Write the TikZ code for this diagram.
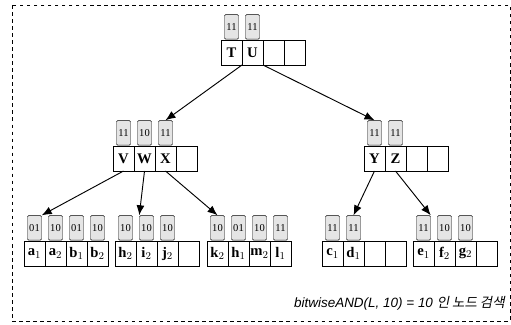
\documentclass[tikz,border=0pt]{standalone}
\usepackage{fontspec}
\setmainfont{Liberation Serif}
\setsansfont{Liberation Sans}
\newfontfamily\krfont{Noto Sans CJK KR}[FakeSlant=0.2]
\usetikzlibrary{arrows.meta, positioning}

\begin{document}
\begin{tikzpicture}[x=0.03cm, y=-0.03cm,
                    cell/.style={rectangle, draw, minimum width=0.63cm, minimum height=0.75cm, inner sep=0pt, outer sep=0pt, font=\fontsize{12.5}{12.5}\selectfont\bfseries},
                    tag/.style={rectangle, draw, rounded corners=1pt, fill=gray!20, minimum width=0.42cm, minimum height=0.74cm, inner sep=0pt, font=\fontsize{9}{9}\selectfont},
                    link/.style={-{Latex[length=3mm, width=2.4mm]}, thick},
                    node distance=0pt]

\useasboundingbox (0,0) rectangle (511,324);
\draw[dashed] (12,5) rectangle (510,321);

% Root node
\node[cell, anchor=north west] (cellT) at (221,40) {T};
\node[cell, right=of cellT] (cellU) {U};
\node[cell, right=of cellU] (rootE1) {};
\node[cell, right=of rootE1] (rootE2) {};
\node[tag, above=0.5pt of cellT] (tagT) {11};
\node[tag, above=0.5pt of cellU] (tagU) {11};

% Inner nodes
\node[cell, anchor=north west] (cellV) at (113,146) {V};
\node[cell, right=of cellV] (cellW) {W};
\node[cell, right=of cellW] (cellX) {X};
\node[cell, right=of cellX] (vwxE) {};
\node[tag, above=0.5pt of cellV] (tagV) {11};
\node[tag, above=0.5pt of cellW] (tagW) {10};
\node[tag, above=0.5pt of cellX] (tagX) {11};

\node[cell, anchor=north west] (cellY) at (364,146) {Y};
\node[cell, right=of cellY] (cellZ) {Z};
\node[cell, right=of cellZ] (yzE1) {};
\node[cell, right=of yzE1] (yzE2) {};
\node[tag, above=0.5pt of cellY] (tagY) {11};
\node[tag, above=0.5pt of cellZ] (tagZ) {11};

% Leaf nodes
\node[cell, anchor=north west] (a1) at (24,241) {a$_1$};
\node[cell, right=of a1] (a2) {a$_2$};
\node[cell, right=of a2] (b1) {b$_1$};
\node[cell, right=of b1] (b2) {b$_2$};
\node[tag, above=0.5pt of a1] (tagA1) {01};
\node[tag, above=0.5pt of a2] (tagA2) {10};
\node[tag, above=0.5pt of b1] (tagB1) {01};
\node[tag, above=0.5pt of b2] (tagB2) {10};

\node[cell, anchor=north west] (h2) at (115,241) {h$_2$};
\node[cell, right=of h2] (i2) {i$_2$};
\node[cell, right=of i2] (j2) {j$_2$};
\node[cell, right=of j2] (leafhE) {};
\node[tag, above=0.5pt of h2] (tagH2) {10};
\node[tag, above=0.5pt of i2] (tagI2) {10};
\node[tag, above=0.5pt of j2] (tagJ2) {10};

\node[cell, anchor=north west] (k2) at (207,241) {k$_2$};
\node[cell, right=of k2] (h1) {h$_1$};
\node[cell, right=of h1] (m2) {m$_2$};
\node[cell, right=of m2] (l1) {l$_1$};
\node[tag, above=0.5pt of k2] (tagK2) {10};
\node[tag, above=0.5pt of h1] (tagH1) {01};
\node[tag, above=0.5pt of m2] (tagM2) {10};
\node[tag, above=0.5pt of l1] (tagL1) {11};

\node[cell, anchor=north west] (c1) at (322,241) {c$_1$};
\node[cell, right=of c1] (d1) {d$_1$};
\node[cell, right=of d1] (leafcE1) {};
\node[cell, right=of leafcE1] (leafcE2) {};
\node[tag, above=0.5pt of c1] (tagC1) {11};
\node[tag, above=0.5pt of d1] (tagD1) {11};

\node[cell, anchor=north west] (e1) at (413,241) {e$_1$};
\node[cell, right=of e1] (f2) {f$_2$};
\node[cell, right=of f2] (g2) {g$_2$};
\node[cell, right=of g2] (leafeE) {};
\node[tag, above=0.5pt of e1] (tagE1) {11};
\node[tag, above=0.5pt of f2] (tagF2) {10};
\node[tag, above=0.5pt of g2] (tagG2) {10};

% Child pointers
\draw[link] (cellT.south east) -- (tagX.north);
\draw[link] (cellU.south east) -- (tagY.north);
\draw[link] (cellV.south) -- (tagA1.north east);
\draw[link] (cellW.south) -- (tagI2.north west);
\draw[link] (cellX.south) -- (tagK2.north);
\draw[link] (cellY.south) -- (tagD1.north);
\draw[link] (cellZ.south) -- (tagE1.north east);

% Query caption
\node[anchor=south east, inner sep=0pt] (caption) at (505,311)
  {\fontsize{11.5}{13}\selectfont\sffamily\itshape bitwiseAND(L, 10) = 10 {\krfont 인 노드 검색}};

\end{tikzpicture}
\end{document}
